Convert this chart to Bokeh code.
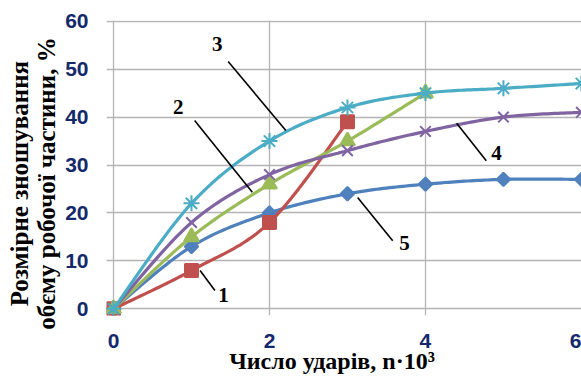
import numpy as np
from bokeh.plotting import figure
from bokeh.models import FixedTicker
from bokeh.core.properties import value
from bokeh.embed import file_html
from bokeh.resources import INLINE

# Measured wear curves (x in thousands of impacts, y in %)
x1 = [0, 1, 2, 3]
y1 = [0, 8, 18, 39]
x2 = [0, 1, 2, 3, 4]
y2 = [0, 15, 26, 35, 45]
x3 = [0, 1, 2, 3, 4, 5, 6]
y3 = [0, 22, 35, 42, 45, 46, 47]
x4 = [0, 1, 2, 3, 4, 5, 6]
y4 = [0, 18, 28, 33, 37, 40, 41]
x5 = [0, 1, 2, 3, 4, 5, 6]
y5 = [0, 13, 20, 24, 26, 27, 27]

x_ticks = [0, 2, 4, 6]
y_ticks = [0, 10, 20, 30, 40, 50, 60]

x_title = "Число ударів, n·10³"
y_title_lines = ["Розмірне зношування", "обєму робочої частини, %"]

# Curve numbers with their leader lines
tag_text = ["1", "2", "3", "4", "5"]
tag_x = [1.41, 0.83, 1.33, 4.91, 3.73]
tag_y = [2.8, 42.0, 55.3, 32.6, 13.8]
lead_x0 = [1.11, 1.04, 1.47, 4.40, 3.13]
lead_y0 = [8.0, 39.3, 51.6, 38.7, 23.2]
lead_x1 = [1.30, 1.78, 2.21, 4.78, 3.58]
lead_y1 = [3.8, 24.3, 37.2, 30.9, 14.2]

NAVY = "#14296b"
GRID = "#b4b4b4"
NBSP = "\u00a0"


def smooth(xs, ys, steps=24):
    """Smoothed line through the points (cubic Bezier, Catmull-Rom tangents)."""
    p = np.column_stack([xs, ys]).astype(float)
    n = len(p)
    out = [p[0]]
    for i in range(n - 1):
        p0 = p[i - 1] if i > 0 else p[i]
        p1, p2 = p[i], p[i + 1]
        p3 = p[i + 2] if i + 2 < n else p[i + 1]
        c1 = p1 + (p2 - p0) / 6.0
        c2 = p2 - (p3 - p1) / 6.0
        t = np.linspace(0, 1, steps + 1)[1:, None]
        seg = ((1 - t) ** 3) * p1 + 3 * ((1 - t) ** 2) * t * c1 + 3 * (1 - t) * t ** 2 * c2 + t ** 3 * p2
        out.extend(seg)
    out = np.array(out)
    return out[:, 0], out[:, 1]


p = figure(width=581, height=376, x_range=(-0.09, 6.001), y_range=(-1.40, 60.15),
           output_backend="svg", toolbar_location=None, title=None,
           min_border_left=106, min_border_right=0, min_border_top=20, min_border_bottom=61)
p.outline_line_color = None
p.background_fill_color = "white"
p.border_fill_color = "white"

for ax in (p.xaxis[0], p.yaxis[0]):
    ax.axis_line_color = None
    ax.major_tick_line_color = None
    ax.minor_tick_line_color = None
    ax.major_label_text_font = "Liberation Sans"
    ax.major_label_text_font_style = "bold"
    ax.major_label_text_font_size = "21px"
    ax.major_label_text_color = NAVY
    ax.axis_label_text_font = "Liberation Serif"
    ax.axis_label_text_font_style = "bold"
    ax.axis_label_text_color = "black"
p.xaxis[0].ticker = FixedTicker(ticks=x_ticks)
p.yaxis[0].ticker = FixedTicker(ticks=y_ticks)
p.xaxis[0].major_label_standoff = 12
p.yaxis[0].major_label_standoff = 12

# axis titles (non-breaking padding nudges them off the frame centre)
p.xaxis[0].axis_label = x_title + NBSP * 4
p.xaxis[0].axis_label_text_font_size = "24px"
p.xaxis[0].axis_label_standoff = -3
p.yaxis[0].axis_label = "\n".join(s + NBSP * 5 for s in y_title_lines)
p.yaxis[0].axis_label_text_font_size = "25px"
p.yaxis[0].axis_label_text_line_height = 1.0
p.yaxis[0].axis_label_standoff = 2

p.xgrid[0].ticker = FixedTicker(ticks=[0, 2, 4])
p.ygrid[0].ticker = FixedTicker(ticks=y_ticks)
for g in (p.xgrid[0], p.ygrid[0]):
    g.grid_line_color = GRID
    g.grid_line_width = 1.3

series = [
    (x5, y5, "#4f81bd", "square", 9.5, np.pi / 4),
    (x1, y1, "#c0504d", "square", 13, 0),
    (x2, y2, "#9bbb59", "triangle", 15, 0),
    (x4, y4, "#8064a2", "x", 15, 0),
    (x3, y3, "#4bacc6", "asterisk", 16, 0),
]
for xs, ys, col, mk, sz, ang in series:
    sx, sy = smooth(xs, ys)
    p.line(sx, sy, line_color=col, line_width=3.2)
    p.scatter(xs, ys, marker=mk, size=sz, angle=ang, fill_color=col, line_color=col, line_width=2)

p.segment(x0=lead_x0, y0=lead_y0, x1=lead_x1, y1=lead_y1, line_color="black", line_width=1.6)
p.text(x=tag_x, y=tag_y, text=tag_text, text_font=value("Liberation Serif"),
       text_font_style="bold", text_font_size="21px", text_color="black",
       text_align="center", text_baseline="middle")

open("out.html", "w").write(file_html(p, INLINE))
